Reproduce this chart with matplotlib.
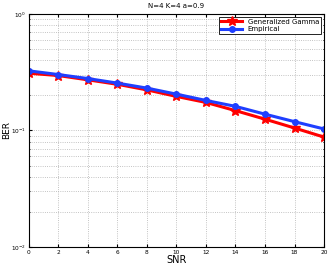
import matplotlib
matplotlib.use('Agg')
import matplotlib.pyplot as plt
import numpy as np

# data
snr = [0, 2, 4, 6, 8, 10, 12, 14, 16, 18, 20]
ber_gamma = [0.310, 0.296, 0.272, 0.249, 0.223, 0.196, 0.174, 0.148, 0.125, 0.105, 0.0877]
ber_emp = [0.325, 0.302, 0.279, 0.255, 0.231, 0.205, 0.181, 0.161, 0.138, 0.119, 0.103]

fig = plt.figure(figsize=(3.32, 2.69), dpi=100)
ax = fig.add_axes([0.087, 0.082, 0.889, 0.866])

ax.semilogy(snr, ber_gamma, '-*', color='red', lw=2.2, ms=7, label='Generalized Gamma')
ax.semilogy(snr, ber_emp, '-o', color='#1f3fff', lw=2.2, ms=4, label='Empirical')

ax.set_xlim(0, 20)
ax.set_ylim(1e-2, 1)
ax.set_xticks(range(0, 21, 2))
ax.grid(True, which='major', ls=':', lw=0.6, color='#b0b0b0')
ax.grid(True, which='minor', axis='y', ls=':', lw=0.6, color='#b0b0b0')
ax.tick_params(which='both', direction='in', labelsize=4.2, top=True, right=True, length=2, pad=2)
ax.tick_params(which='minor', length=1)
for s in ax.spines.values():
    s.set_linewidth(0.8)

ax.set_xlabel('SNR', fontsize=7, labelpad=0)
ax.set_ylabel('BER', fontsize=6.5)
ax.yaxis.set_label_coords(-0.06, 0.5)
ax.set_title('N=4 K=4 a=0.9', fontsize=5, pad=4)

leg = ax.legend(loc='upper right', fontsize=5, fancybox=False, framealpha=1,
                edgecolor='black', borderpad=0.3, handlelength=3, labelspacing=0.2,
                borderaxespad=0.4)
leg.get_frame().set_linewidth(0.6)

plt.savefig('out.png', dpi=100)
